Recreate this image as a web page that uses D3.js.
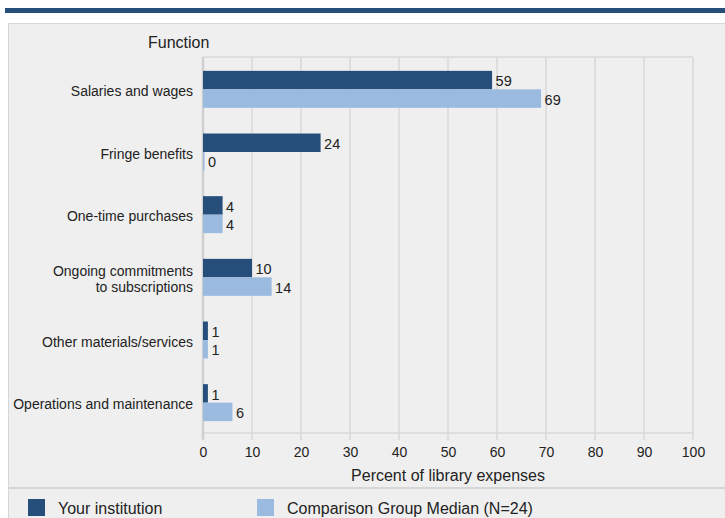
<!DOCTYPE html>
<html>
<head>
<meta charset="utf-8">
<script src="https://cdn.jsdelivr.net/npm/d3@7"></script>
<style>
  html, body { margin: 0; padding: 0; background: #ffffff; }
  svg { display: block; font-family: "Liberation Sans", Arial, sans-serif; }
</style>
</head>
<body>
<svg id="chart" width="725" height="518"></svg>
<script>
// Library expenses by function, percent of total
const categories = [
  ["Salaries and wages"],
  ["Fringe benefits"],
  ["One-time purchases"],
  ["Ongoing commitments", "to subscriptions"],
  ["Other materials/services"],
  ["Operations and maintenance"]
];
const yourInstitution = [59, 24, 4, 10, 1, 1];
const comparisonMedian = [69, 0, 4, 14, 1, 6];
const seriesNames = ["Your institution", "Comparison Group Median (N=24)"];
const xTicks = [0, 10, 20, 30, 40, 50, 60, 70, 80, 90, 100];

const colors = ["#254e7b", "#9bbae0"];

const svg = d3.select("#chart");

// header band and panel
svg.append("rect").attr("x", 5).attr("y", 8).attr("width", 720).attr("height", 5).attr("fill", "#254e7b");
svg.append("rect").attr("x", 8.5).attr("y", 23.5).attr("width", 730).attr("height", 500)
  .attr("fill", "#efefef").attr("stroke", "#d6d6d6").attr("stroke-width", 1);
svg.append("line").attr("x1", 8).attr("x2", 725).attr("y1", 488).attr("y2", 488)
  .attr("stroke", "#d6d6d6").attr("stroke-width", 2);

const plot = { left: 203, right: 693, top: 57, bottom: 433 };

const x = d3.scaleLinear().domain([0, 100]).range([plot.left, plot.right]);
const y = d3.scaleBand().domain(d3.range(categories.length))
  .range([plot.top + 1, plot.bottom + 1]).paddingInner(0.41).paddingOuter(0.205);
const sub = d3.scaleBand().domain([0, 1]).range([0, y.bandwidth()]);

// vertical gridlines
const g = svg.append("g");
g.selectAll("line.grid").data(xTicks.slice(1)).join("line")
  .attr("x1", d => x(d)).attr("x2", d => x(d))
  .attr("y1", plot.top).attr("y2", plot.bottom + 7)
  .attr("stroke", "#d8d8d8").attr("stroke-width", 1.5);
g.append("line").attr("x1", plot.left).attr("x2", plot.right)
  .attr("y1", plot.top).attr("y2", plot.top).attr("stroke", "#d8d8d8").attr("stroke-width", 1.5);
g.append("line").attr("x1", plot.left).attr("x2", plot.right)
  .attr("y1", plot.bottom).attr("y2", plot.bottom).attr("stroke", "#d8d8d8").attr("stroke-width", 1.5);

// bottom axis tick labels
const axis = svg.append("g").attr("transform", `translate(0,${plot.bottom})`)
  .call(d3.axisBottom(x).tickValues(xTicks).tickSize(0).tickPadding(14));
axis.select(".domain").remove();
axis.selectAll("text").attr("font-size", 14).attr("fill", "#222").attr("font-family", "Liberation Sans, Arial, sans-serif");

// zero line
g.append("line").attr("x1", x(0)).attr("x2", x(0))
  .attr("y1", plot.top).attr("y2", plot.bottom + 7).attr("stroke", "#d0d0d0").attr("stroke-width", 2.5);

// bars
const series = [yourInstitution, comparisonMedian];
series.forEach((vals, s) => {
  const bars = svg.append("g");
  bars.selectAll("rect").data(vals).join("rect")
    .attr("x", x(0))
    .attr("y", (d, i) => y(i) + sub(s))
    .attr("width", d => Math.max(x(d) - x(0), 1.5))
    .attr("height", sub.bandwidth())
    .attr("fill", colors[s]);
  bars.selectAll("text").data(vals).join("text")
    .attr("x", d => Math.max(x(d), x(0) + 1.5) + 3.5)
    .attr("y", (d, i) => y(i) + sub(s) + sub.bandwidth() / 2)
    .attr("dy", "0.42em")
    .attr("font-size", 14.5).attr("fill", "#222")
    .text(d => d);
});

// category labels
const cat = svg.append("g");
categories.forEach((lines, i) => {
  const cy = y(i) + y.bandwidth() / 2;
  const t = cat.append("text").attr("text-anchor", "end").attr("font-size", 14).attr("fill", "#222");
  lines.forEach((ln, k) => {
    t.append("tspan").attr("x", 193)
      .attr("y", cy + (k - (lines.length - 1) / 2) * 16)
      .attr("dy", "0.48em").text(ln);
  });
});

// titles
svg.append("text").attr("x", 148).attr("y", 48).attr("font-size", 16).attr("fill", "#222").text("Function");
svg.append("text").attr("x", (plot.left + plot.right) / 2).attr("y", 481)
  .attr("text-anchor", "middle").attr("font-size", 16).attr("fill", "#222").text("Percent of library expenses");

// legend
const legendX = [28, 257];
seriesNames.forEach((name, s) => {
  svg.append("rect").attr("x", legendX[s]).attr("y", 499).attr("width", 17).attr("height", 17).attr("fill", colors[s]);
  svg.append("text").attr("x", legendX[s] + 30).attr("y", 514).attr("font-size", 16).attr("fill", "#222").text(name);
});
</script>
</body>
</html>
